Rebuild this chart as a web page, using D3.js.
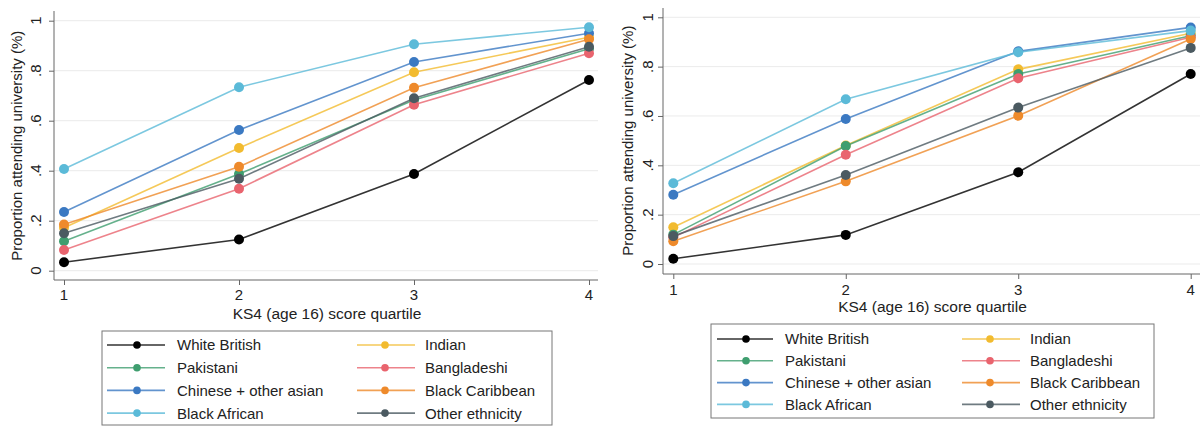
<!DOCTYPE html>
<html><head><meta charset="utf-8">
<script src="https://cdn.jsdelivr.net/npm/d3@7"></script>
<style>
body{margin:0;background:#fff}
svg{display:block}
text{font-family:"Liberation Sans",Arial,sans-serif;fill:#222}
</style>
</head><body><svg id="chart" width="1203" height="427"></svg>
<script>
// ---- data ----
const quartiles = [1, 2, 3, 4];
const ethnicities = ["White British", "Indian", "Pakistani", "Bangladeshi",
  "Chinese + other asian", "Black Caribbean", "Black African", "Other ethnicity"];
const colors = ["#000000", "#f2bb2f", "#3f9e6f", "#e9646e",
  "#3b79c2", "#ee8a2b", "#5bbad8", "#4b5a61"];
const yTicks = [0, 0.2, 0.4, 0.6, 0.8, 1];
const yTickLabels = ["0", ".2", ".4", ".6", ".8", "1"];
const xTitle = "KS4 (age 16) score quartile";
const yTitle = "Proportion attending university (%)";

// left panel values (same order as ethnicities)
const valuesLeft = [
  [0.034, 0.125, 0.387, 0.763], // White British
  [0.172, 0.491, 0.794, 0.934], // Indian
  [0.118, 0.387, 0.683, 0.888], // Pakistani
  [0.083, 0.328, 0.664, 0.870], // Bangladeshi
  [0.235, 0.563, 0.835, 0.950], // Chinese + other asian
  [0.185, 0.416, 0.732, 0.926], // Black Caribbean
  [0.407, 0.734, 0.906, 0.974], // Black African
  [0.150, 0.368, 0.690, 0.896]  // Other ethnicity
];
// right panel values
const valuesRight = [
  [0.021, 0.118, 0.372, 0.770],
  [0.149, 0.480, 0.789, 0.935],
  [0.119, 0.478, 0.770, 0.925],
  [0.108, 0.443, 0.753, 0.919],
  [0.281, 0.588, 0.862, 0.959],
  [0.092, 0.335, 0.601, 0.912],
  [0.327, 0.668, 0.858, 0.946],
  [0.113, 0.361, 0.634, 0.876]
];

// ---- layout ----
const panels = [
  { values: valuesLeft, axisX: 54, right: 598, top: 11, x1: 64, x4: 589, y0: 270.7, y1: 20.7, axisY: 280,
    yLabX: 36, yTitleX: 17, xLabY: 299.5, xTitleY: 319,
    legend: { x0: 102, y0: 331, x1: 552, y1: 425, rowY: 345, rowStep: 22.7,
      cols: [{ l0: 107, l1: 165, m: 137, t: 177 }, { l0: 357, l1: 415, m: 385, t: 425 }] } },
  { values: valuesRight, axisX: 663, right: 1200, top: 8, x1: 673.3, x4: 1190.7, y0: 264, y1: 17.3, axisY: 274,
    yLabX: 648, yTitleX: 628, xLabY: 295, xTitleY: 311.5,
    legend: { x0: 711, y0: 324, x1: 1154, y1: 418, rowY: 339, rowStep: 21.8,
      cols: [{ l0: 717, l1: 773, m: 746, t: 785 }, { l0: 962, l1: 1020, m: 990, t: 1030 }] } }
];

const svg = d3.select("#chart");

panels.forEach(p => {
  const g = svg.append("g");
  const x = d3.scaleLinear().domain([1, 4]).range([p.x1, p.x4]);
  const y = d3.scaleLinear().domain([0, 1]).range([p.y0, p.y1]);

  // gridlines
  g.append("g").selectAll("line").data(yTicks).join("line")
    .attr("x1", p.axisX).attr("x2", p.right)
    .attr("y1", d => y(d)).attr("y2", d => y(d))
    .attr("stroke", "#ebebeb").attr("stroke-width", 1);

  // y axis
  const yAxis = g.append("g").attr("transform", `translate(${p.axisX},0)`)
    .call(d3.axisLeft(y).tickValues(yTicks).tickSize(5).tickFormat(""));
  yAxis.select(".domain").attr("d", `M0,${p.top}V${p.axisY}`);
  yAxis.selectAll("line, path").attr("stroke", "#666");
  g.append("g").selectAll("text").data(yTicks).join("text")
    .attr("transform", (d, i) => `translate(${p.yLabX},${y(d)}) rotate(-90)`)
    .attr("text-anchor", "middle").attr("dy", "0.36em")
    .style("font-size", "15px")
    .text((d, i) => yTickLabels[i]);
  g.append("text")
    .attr("transform", `translate(${p.yTitleX},${(p.y0 + p.y1) / 2}) rotate(-90)`)
    .attr("text-anchor", "middle").attr("dy", "0.36em")
    .style("font-size", "15px").text(yTitle);

  // x axis
  const xAxis = g.append("g").attr("transform", `translate(0,${p.axisY})`)
    .call(d3.axisBottom(x).tickValues(quartiles).tickSize(5).tickFormat(""));
  xAxis.select(".domain").attr("d", `M${p.axisX},0H${p.right}`);
  xAxis.selectAll("line, path").attr("stroke", "#666");
  g.append("g").selectAll("text").data(quartiles).join("text")
    .attr("x", d => x(d)).attr("y", p.xLabY)
    .attr("text-anchor", "middle").style("font-size", "15px")
    .text(d => d);
  g.append("text").attr("x", (p.axisX + p.right) / 2 + 1).attr("y", p.xTitleY)
    .attr("text-anchor", "middle").style("font-size", "15.5px").text(xTitle);

  // series
  const line = d3.line().x((d, i) => x(quartiles[i])).y(d => y(d));
  p.values.forEach((vals, si) => {
    const sg = g.append("g");
    sg.append("path").attr("d", line(vals)).attr("fill", "none")
      .attr("stroke", colors[si]).attr("stroke-width", 1.6).attr("stroke-opacity", 0.8);
    sg.selectAll("circle").data(vals).join("circle")
      .attr("cx", (d, i) => x(quartiles[i])).attr("cy", d => y(d)).attr("r", 5)
      .attr("fill", colors[si]);
  });

  // legend
  const L = p.legend;
  const lg = g.append("g");
  lg.append("rect").attr("x", L.x0).attr("y", L.y0)
    .attr("width", L.x1 - L.x0).attr("height", L.y1 - L.y0)
    .attr("fill", "#fff").attr("stroke", "#777").attr("stroke-width", 1);
  ethnicities.forEach((name, i) => {
    const c = L.cols[i % 2];
    const ry = L.rowY + Math.floor(i / 2) * L.rowStep;
    lg.append("line").attr("x1", c.l0).attr("x2", c.l1).attr("y1", ry).attr("y2", ry)
      .attr("stroke", colors[i]).attr("stroke-width", 1.6).attr("stroke-opacity", 0.8);
    lg.append("circle").attr("cx", c.m).attr("cy", ry).attr("r", 3.8).attr("fill", colors[i]);
    lg.append("text").attr("x", c.t).attr("y", ry).attr("dy", "0.36em")
      .style("font-size", "15px").text(name);
  });
});
</script>
</body></html>
